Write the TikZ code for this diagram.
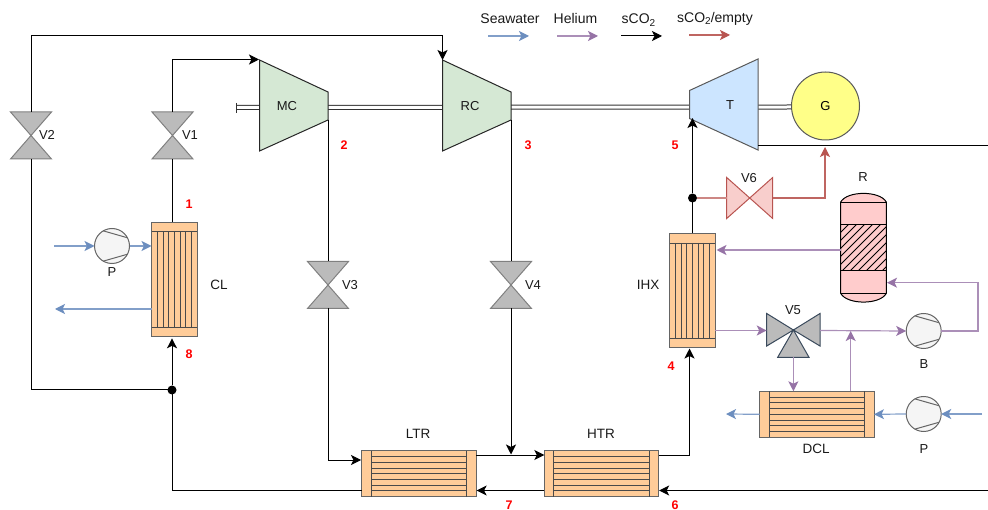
\documentclass[tikz,border=0pt]{standalone}
\usepackage{fontspec}
\setmainfont{Liberation Sans}
\usetikzlibrary{arrows.meta,calc}
\definecolor{sea}{HTML}{6C8EBF}
\definecolor{hel}{HTML}{9673A6}
\definecolor{emp}{HTML}{B85450}
\definecolor{vgray}{HTML}{BBBBBB}
\definecolor{vedge}{HTML}{808080}
\definecolor{hx}{HTML}{FFCC99}
\definecolor{hxe}{HTML}{4A4A4A}
\definecolor{mcfill}{HTML}{D5E8D4}
\definecolor{tfill}{HTML}{CCE5FF}
\definecolor{gfill}{HTML}{FFFF88}
\definecolor{rfill}{HTML}{FFCCCC}
\definecolor{v6fill}{HTML}{F8CECC}
\definecolor{v5edge}{HTML}{3A4A5C}
\tikzset{
  tipk/.style={-{Stealth[length=10pt,width=10pt,inset=2.5pt]}},
  tipc/.style={-{Stealth[length=10pt,width=10pt,inset=2.5pt,color=#1]}},
  co/.style={draw=black,line width=1pt},
  coa/.style={co,tipk},
  seaf/.style={draw=sea!85!white,line width=1.2pt,tipc=sea},
  helf/.style={draw=hel!80!white,line width=1.2pt,tipc=hel},
  emf/.style={draw=emp!90!white,line width=1.1pt,tipc=emp},
  lab/.style={font=\fontsize{13}{15}\selectfont,inner sep=0pt,text=black!90},
  labb/.style={font=\fontsize{13.5}{15}\selectfont,inner sep=0pt,text=black!90},
  leg/.style={font=\fontsize{14}{16}\selectfont,inner sep=0pt,text=black!90},
  num/.style={font=\fontsize{12.5}{14}\selectfont\bfseries,inner sep=0pt,text=red},
  hole/.style={inner sep=0pt,minimum size=0pt,outer sep=0pt},
  valveshape/.style={draw=vedge,fill=vgray,line width=1pt,line join=miter},
  mach/.style={draw=black!85,line width=1pt,line join=miter},
  shaft/.style={draw=black!80,line width=1pt,double=white,double distance=3pt},
  hxbox/.style={draw=hxe!85!white,fill=hx,line width=1pt,inner sep=0pt,outer sep=0pt},
  hxline/.style={draw=hxe,line width=0.9pt},
  pumpc/.style={circle,draw=black!60,fill=black!4,line width=1pt,minimum size=35pt,inner sep=0pt,outer sep=0pt},
  dot/.style={circle,fill=black,inner sep=0pt,outer sep=0pt,minimum size=9pt},
}
\newcommand\twosub{\raisebox{-2.5pt}{\fontsize{10}{10}\selectfont 2}}
% vertical-flow valve: name, x, y
\newcommand\vvalve[3]{%
  \node[hole,minimum width=41pt,minimum height=47pt] (#1) at (#2,#3) {};
  \draw[valveshape] (#1.north west)--(#1.north east)--(#1.south west)--(#1.south east)--cycle;}
% pump
\newcommand\mypump[3]{%
  \node[pumpc] (#1) at (#2,#3) {};
  \draw[draw=black!60,line width=1pt] ($(#1)+(-9,-15.2)$)--($(#1)+(15.2,-8.3)$) ($(#1)+(-9,15.2)$)--($(#1)+(15.2,8.3)$);}
% tubes vertical
\newcommand\vexch[3]{%
  \node[hxbox,minimum width=45.6pt,minimum height=114.6pt] (#1) at (#2,#3) {};
  \draw[hxline] ($(#1.north west)+(0,9.6)$)--($(#1.north east)+(0,9.6)$) ($(#1.south west)+(0,-9.6)$)--($(#1.south east)+(0,-9.6)$);
  \foreach \d in {-17.1,-11.4,-5.7,0,5.7,11.4,17.1}{\draw[hxline] ($(#1.north)+(\d,9.6)$)--($(#1.south)+(\d,-9.6)$);}}
% tubes horizontal
\newcommand\hexch[3]{%
  \node[hxbox,minimum width=114.4pt,minimum height=46pt] (#1) at (#2,#3) {};
  \draw[hxline] ($(#1.north west)+(9.5,0)$)--($(#1.south west)+(9.5,0)$) ($(#1.north east)+(-9.5,0)$)--($(#1.south east)+(-9.5,0)$);
  \foreach \d in {-17.1,-11.4,-5.7,0,5.7,11.4,17.1}{\draw[hxline] ($(#1.west)+(9.5,\d)$)--($(#1.east)+(-9.5,\d)$);}}
\begin{document}
\begin{tikzpicture}[x=1pt,y=-1pt]
\useasboundingbox (0,0) rectangle (988,510);
% shafts (behind machines)
\coordinate (shl) at (236,107.5);
\coordinate (shr) at (791,107);
\draw[shaft] (shl)--(shr);
\draw[draw=black!80,line width=1pt] (236,103)--(236,113);
% machines
\coordinate (mcA) at (259.5,60); \coordinate (mcB) at (328,92); \coordinate (mcC) at (328,120); \coordinate (mcD) at (259.5,151);
\draw[mach,fill=mcfill] (mcA)--(mcB)--(mcC)--(mcD)--cycle;
\coordinate (rcA) at (442.5,60); \coordinate (rcB) at (511,92); \coordinate (rcC) at (511,120); \coordinate (rcD) at (442.5,151);
\draw[mach,fill=mcfill] (rcA)--(rcB)--(rcC)--(rcD)--cycle;
\coordinate (tA) at (689.5,90.5); \coordinate (tB) at (758,59); \coordinate (tC) at (758,150); \coordinate (tD) at (689.5,118.5);
\draw[mach,draw=black!65,fill=tfill] (tA)--(tB)--(tC)--(tD)--cycle;
\node[lab] (MC) at (287,106) {MC};
\node[lab] (RC) at (470,106) {RC};
\node[lab] (T) at (730,105) {T};
\node[circle,draw=black!65,fill=gfill,line width=1pt,minimum size=68pt,inner sep=0pt,outer sep=0pt,font=\fontsize{13}{15}\selectfont] (G) at (825.5,106) {G};
% valves
\vvalve{V2}{31}{135.5}
\vvalve{V1}{172.5}{135.5}
\vvalve{V3}{328}{285}
\vvalve{V4}{511}{285}
\node[lab] at (47,135) {V2};
\node[lab] at (190,135) {V1};
\node[lab] at (350,285) {V3};
\node[lab] at (533,285) {V4};
% V6
\node[hole,minimum width=46pt,minimum height=41pt] (V6) at (749.7,198) {};
\draw[draw=emp,fill=v6fill,line width=1pt,line join=miter] (V6.north west)--(V6.south east)--(V6.north east)--(V6.south west)--cycle;
\node[lab] at (749,178) {V6};
% V5
\node[hole,minimum width=53.4pt,minimum height=44pt] (V5) at (793.4,335.3) {};
\coordinate (V5c) at (793.4,330);
\coordinate (V5l) at (766.7,330.5);
\coordinate (V5r) at (820,330.5);
\coordinate (V5b) at (793.4,357.3);
\draw[draw=v5edge,fill=vgray,line width=1pt,line join=miter] (V5c)--(766.7,313.5)--(766.7,346)--cycle (V5c)--(820,313.5)--(820,346)--cycle (V5c)--(777.7,357.3)--(809,357.3)--cycle;
\node[lab] at (793,310) {V5};
% exchangers
\vexch{CL}{174.5}{279.5}
\vexch{IHX}{692.5}{290.7}
\hexch{LTR}{418.9}{473.7}
\hexch{HTR}{601.5}{473.7}
\hexch{DCL}{816.8}{414.3}
\node[labb] at (219,285) {CL};
\node[labb] at (648,285) {IHX};
\node[labb] at (418,434) {LTR};
\node[labb] at (601,434) {HTR};
\node[labb] at (816,449) {DCL};
% pumps
\mypump{P1}{112}{246}
\mypump{B}{923.7}{331}
\mypump{P2}{923.7}{414}
\node[lab] at (112,272) {P};
\node[lab] at (924,364) {B};
\node[lab] at (924,449) {P};
% reactor
\node[hole,minimum width=45.6pt,minimum height=91.3pt] (R) at (863.5,247.7) {};
\draw[draw=black,fill=rfill,line width=1pt] (R.north west) .. controls (847,190.5) and (880,190.5) .. (R.north east) -- (R.south east) .. controls (880,305) and (847,305) .. (R.south west) -- cycle;
\begin{scope}
\clip (R.west |- 0,225) rectangle (R.east |- 0,270.7);
\foreach \k in {0,8,...,104}{\draw[black,line width=0.8pt] (790+\k,275)--(790+\k+52,223);}
\end{scope}
\draw[draw=black,line width=1pt] (R.north west)--(R.north east) (R.west |- 0,225)--(R.east |- 0,225) (R.west |- 0,270.7)--(R.east |- 0,270.7) (R.south west)--(R.south east);
\node[lab] at (863,177) {R};
% junctions
\node[dot] (J1) at (172,390) {};
\node[dot] (J2) at (692.5,198) {};
% free ends
\coordinate (edgeTop) at (988,146);
\coordinate (edgeBot) at (988,490.5);
\coordinate (c1) at (31,36);
\coordinate (c2) at (442.5,36);
\coordinate (c3) at (172.5,59.5);
\coordinate (mcIn) at (259,59.5);
\coordinate (rcIn) at (442.5,60);
\coordinate (tOut) at (758,146);
\coordinate (tIn) at (692.5,118);
% sCO2
\draw[co] (V2.south) -- (J1 -| V2.south) -- (J1);
\draw[coa] (V2.north) -- (c1) -- (c2) -- (rcIn);
\draw[co] (CL.north -| V1.south) -- (V1.south);
\draw[coa] (V1.north) -- (c3) -- (mcIn);
\draw[coa] (J1) -- ($(CL.south)+(-2.5,1.5)$);
\draw[co] ($(LTR.west)+(0,17)$) -- (172,490.7) -- (J1);
\draw[co] (mcC) -- (V3.north);
\draw[coa] (V3.south) -- (328,460) -- (361,460);
\draw[co] (rcC) -- (V4.north);
\coordinate (ltout) at ($(LTR.east)+(0,-18.7)$);
\coordinate (htin) at ($(HTR.west)+(0,-18.7)$);
\draw[coa] (ltout) -- (htin);
\draw[coa] (V4.south) -- (511,454.5);
\coordinate (htout) at ($(HTR.east)+(0,-18.2)$);
\draw[coa] (htout) -- (689.5,455.5) -- ($(IHX.south)+(-3,0.5)$);
\draw[coa] ($(HTR.west)+(0,16.8)$) -- ($(LTR.east)+(0.5,16.8)$);
\draw[coa] (edgeBot) -- ($(HTR.east)+(0.5,16.8)$);
\draw[co] (IHX.north) -- (J2);
\draw[coa] (J2) -- (tIn);
\draw[co] (tOut) -- (edgeTop);
% empty line
\draw[draw=emp!70!white,line width=1.3pt] (J2) -- (V6.west);
\draw[emf] (V6.east) -- (825,198) -- (825,147);
% seawater
\coordinate (s1) at (54,246);
\coordinate (s2) at (55,309);
\coordinate (s3) at (982,414);
\coordinate (s4) at (726,414);
\draw[seaf] (s1) -- (P1.west);
\draw[seaf] (P1.east) -- (151.5,246);
\draw[seaf] (151.5,309) -- (s2);
\draw[seaf] (s3) -- (P2.east);
\draw[seaf] (P2.west) -- (DCL.east);
\draw[seaf] (DCL.west) -- (s4);
% helium
\draw[helf] (R.west |- 0,250) -- (716.5,250);
\draw[helf] (IHX.east |- V5l) -- (V5l);
\draw[helf] (V5r) -- (B.west);
\draw[helf] (V5b) -- (DCL.north -| V5b);
\draw[helf] (850.7,391.3) -- (850.7,331);
\draw[helf] (B.east) -- (978,331) -- (978,282.7) -- (887,282.7);
% numbers
\node[num] at (189,204) {1};
\node[num] at (344,145) {2};
\node[num] at (528,145) {3};
\node[num] at (671,366) {4};
\node[num] at (675,145) {5};
\node[num] at (675,505) {6};
\node[num] at (509,505) {7};
\node[num] at (189,354) {8};
% legend
\node[leg] at (510,19) {Seawater};
\node[leg] at (575.5,19) {Helium};
\node[leg] at (638.5,20) {sCO\twosub};
\node[leg] at (715,18.5) {sCO\twosub/empty};
\coordinate (l1a) at (488,36); \coordinate (l1b) at (529,36);
\coordinate (l2a) at (557,36); \coordinate (l2b) at (598,36);
\coordinate (l3a) at (621,36); \coordinate (l3b) at (662,36);
\coordinate (l4a) at (689,35); \coordinate (l4b) at (730,35);
\draw[seaf] (l1a)--(l1b);
\draw[helf] (l2a)--(l2b);
\draw[coa] (l3a)--(l3b);
\draw[emf] (l4a)--(l4b);
\end{tikzpicture}
\end{document}
